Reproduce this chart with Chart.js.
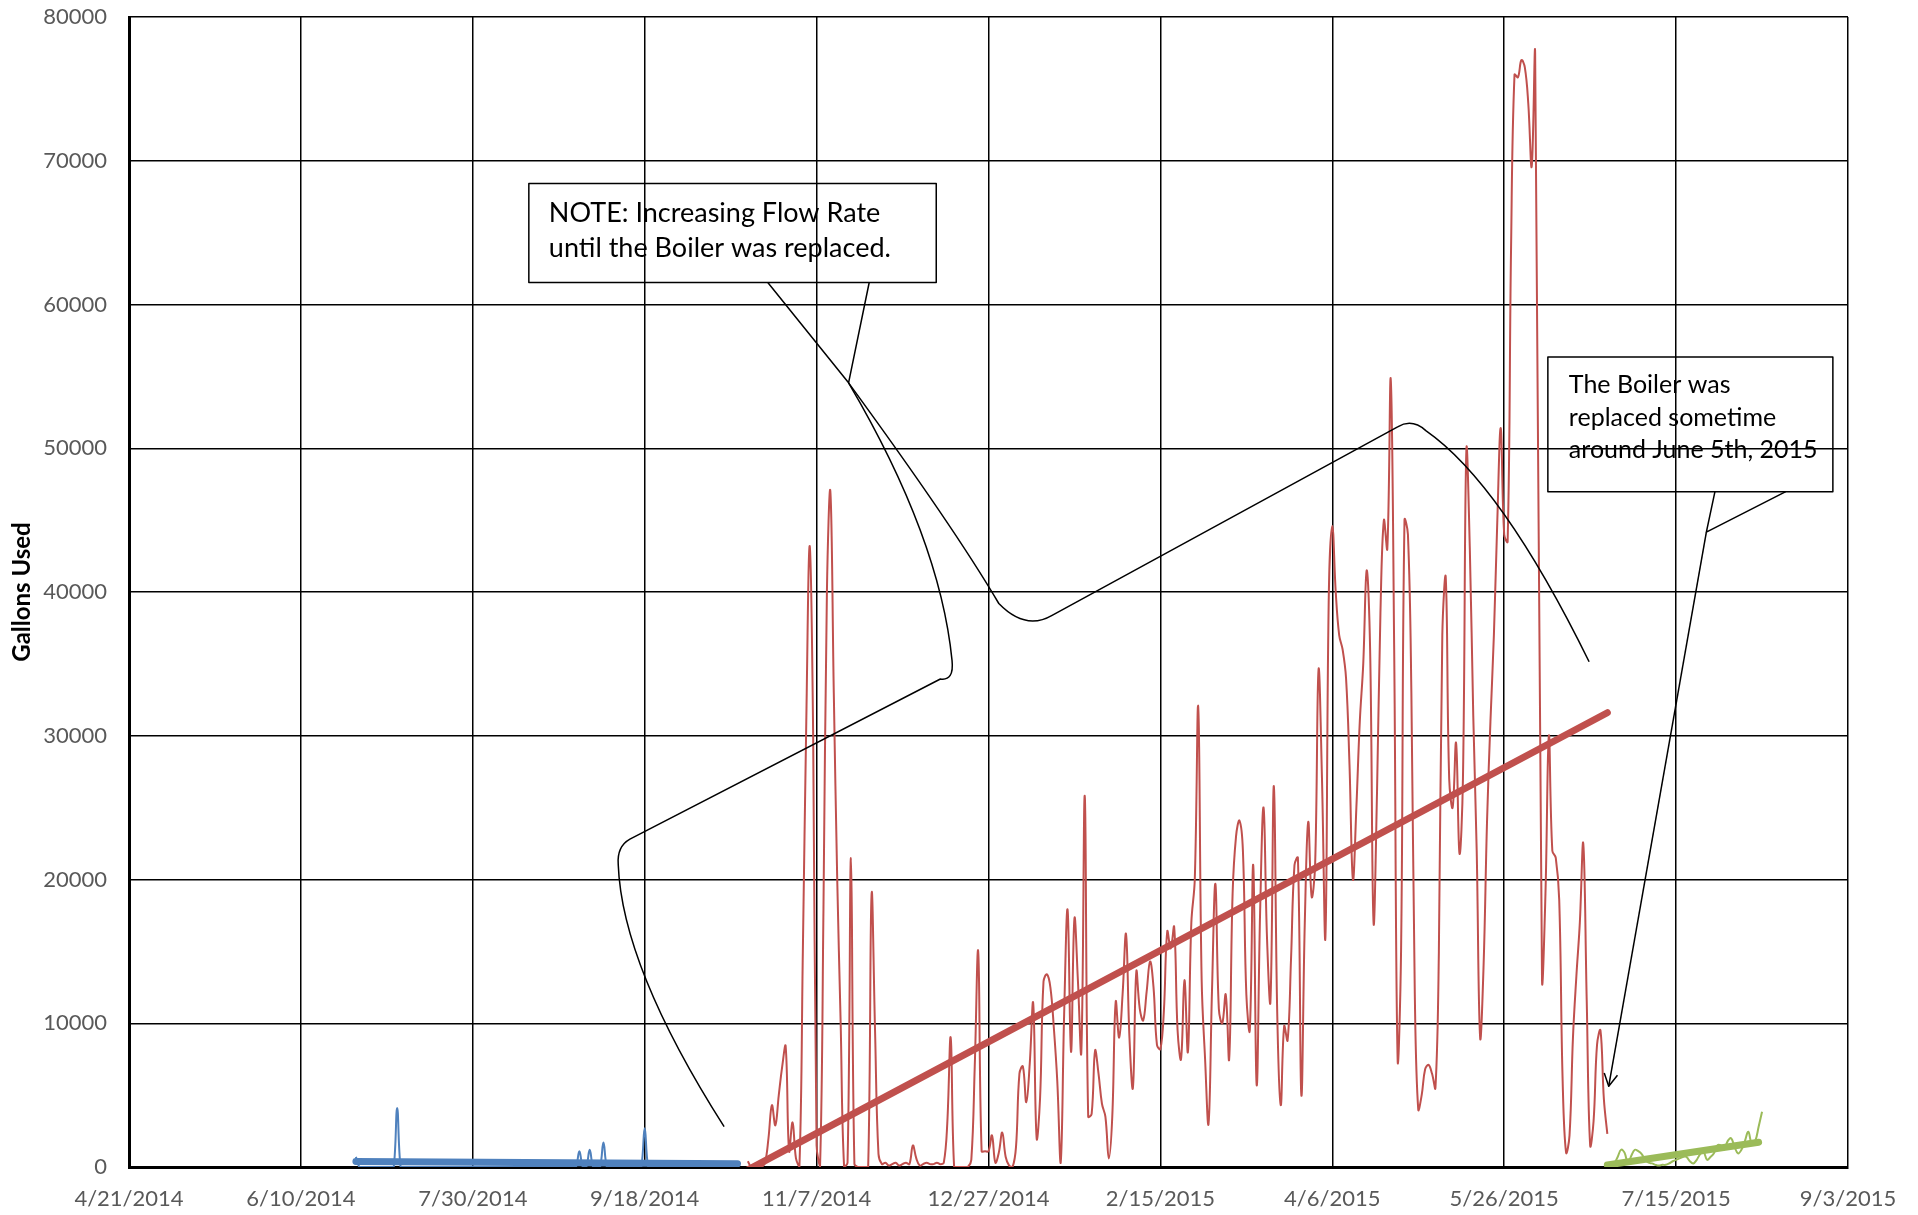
<!DOCTYPE html>
<html>
<head>
<meta charset="utf-8">
<title>Gallons Used</title>
<script src="https://cdn.jsdelivr.net/npm/chart.js@4.4.1/dist/chart.umd.min.js"></script>
<style>
  html, body { margin: 0; padding: 0; background: #fff; overflow: hidden; }
  canvas { display: block; }
</style>
</head>
<body>
<canvas id="usage-chart" width="1918" height="1215"></canvas>
<script>
(function () {
    // x values are days counted from 4/21/2014, the left end of the axis
    const AXIS_START = Date.UTC(2014, 3, 21);
    const X_MAX = 500;
    const X_STEP = 50;
    const Y_MAX = 80000;
    const Y_STEP = 10000;

    // --- Data: daily gallons, one value per day from the start date ---
    const blueStart = '2014-06-26';
    const blueValues = [
        700, 0, 0, 0, 0, 0, 0, 0, 0, 0,
        0, 0, 4100, 0, 0, 0, 0, 0, 0, 0,
        0, 0, 0, 0, 0, 0, 0, 0, 0, 0,
        0, 0, 0, 0, 0, 0, 0, 0, 0, 0,
        0, 0, 0, 0, 0, 0, 0, 0, 0, 0,
        0, 0, 0, 0, 0, 0, 0, 0, 0, 0,
        0, 0, 0, 0, 0, 1100, 0, 0, 1200, 0,
        0, 0, 1700, 0, 0, 0, 0, 0, 0, 0,
        0, 0, 0, 0, 2700, 0, 0, 0, 0, 0,
        0, 0, 0, 0, 0, 0, 0, 0, 0, 0,
        0, 0, 0, 0, 0, 0, 0, 0, 0, 0,
        0, 0
    ];

    const redStart = '2014-10-18';
    const redValues = [
        400, 0, 0, 0, 0, 300, 2000, 4300, 2900, 5000,
        7000, 8400, 1100, 3100, 600, 0, 15000, 31000, 43200, 30000,
        1500, 0, 18000, 40000, 47000, 33000, 20000, 10000, 0, 300,
        21500, 200, 0, 0, 0, 0, 19000, 9500, 900, 200,
        300, 100, 200, 300, 100, 200, 300, 200, 1500, 600,
        100, 200, 300, 200, 200, 300, 200, 300, 3000, 9000,
        0, 0, 0, 0, 0, 500, 7000, 15000, 1100, 1100,
        1100, 2200, 300, 1000, 2400, 700, 100, 0, 1400, 6500,
        7000, 4500, 7200, 11400, 2000, 4800, 12900, 13400, 12500, 9700,
        6000, 300, 10600, 17900, 8000, 17300, 13000, 8000, 25800, 3500,
        3700, 8100, 6500, 4400, 3500, 600, 3500, 11500, 9000, 12000,
        16200, 9000, 5500, 13600, 11000, 10200, 12200, 14300, 12500, 8500,
        8200, 10800, 16400, 15200, 16700, 9500, 7500, 13000, 8000, 17000,
        20000, 32000, 13000, 7500, 3000, 12200, 19700, 11000, 10000, 12000,
        7500, 19000, 23000, 24100, 22000, 12000, 9500, 21000, 5700, 17700,
        25000, 16000, 11500, 26500, 10500, 4300, 9800, 8800, 14500, 21000,
        21500, 5000, 17000, 24000, 18800, 21000, 34600, 27000, 16000, 40000,
        44600, 40000, 37000, 36000, 34000, 28000, 20000, 25000, 31000, 35000,
        41500, 36000, 17000, 26000, 38500, 45000, 43000, 54800, 36000, 7500,
        15000, 45000, 44000, 33000, 12000, 4000, 5000, 6800, 7100, 6500,
        5500, 15000, 37000, 41000, 27000, 25000, 29500, 21800, 27000, 49900,
        43000, 31400, 22000, 9000, 14000, 24000, 31000, 37000, 45000, 51400,
        44000, 43500, 64000, 76000, 75800, 77000, 76500, 74000, 69600, 77500,
        45000, 13000, 19000, 30000, 22000, 21500, 18600, 6000, 1000, 2200,
        9000, 13300, 17000, 22500, 11600, 1500, 3200, 8500, 9500, 4700,
        2300
    ];

    const greenStart = '2015-06-25';
    const greenValues = [
        0, 100, 250, 700, 1200, 1000, 250, 800, 1200, 1100,
        900, 500, 300, 250, 150, 100, 150, 150, 250, 400,
        500, 600, 700, 700, 400, 250, 500, 900, 1050, 500,
        700, 950, 1500, 1500, 1200, 1800, 2000, 1400, 950, 1200,
        1800, 2450, 1650, 1800, 2800, 3850
    ];

    // linear trend lines: [date, gallons] at each end
    const blueTrend = [['2014-06-26', 380], ['2014-10-15', 220]];
    const redTrend = [['2014-10-18', -200], ['2015-06-25', 31600]];
    const greenTrend = [['2015-06-25', 140], ['2015-08-08', 1720]];

    // --- Callouts, in axis units (days from 4/21/2014, gallons) ---
    const noteBox = {
        x0: 116.3, x1: 234.8, y0: 68420, y1: 61530,
        lines: ['NOTE: Increasing Flow Rate', 'until the Boiler was replaced.']
    };
    const boilerBox = {
        x0: 412.7, x1: 495.6, y0: 56350, y1: 46980,
        lines: ['The Boiler was', 'replaced sometime', 'around June 5th, 2015']
    };
    const leaderLines = [
        [['M', 185.8, 61530], ['L', 209.3, 54550], ['L', 215.3, 61530]],
        [['M', 209.3, 54550], ['Q', 235.9, 43740, 239.4, 35230], ['Q', 240.0, 33800, 236.0, 33950],
         ['L', 145.7, 22810], ['Q', 141.9, 22300, 142.3, 21050], ['Q', 143.4, 13960, 173.1, 2810]],
        [['M', 209.3, 54550], ['Q', 240.0, 44500, 253.0, 39200], ['Q', 260.7, 37300, 268.5, 38380],
         ['L', 369.0, 51490], ['Q', 373.2, 52080, 377.2, 51230], ['Q', 399.2, 47570, 424.7, 35150]],
        [['M', 461.3, 46980], ['L', 458.8, 44170], ['L', 481.9, 46980]],
        [['M', 458.8, 44170], ['L', 430.4, 5620]]
    ];
    const arrowTip = { from: [458.8, 44170], to: [430.4, 5620] };

    // --- Helpers ---
    const DAY_MS = 86400000;
    function dayOf(iso) {
        return (Date.parse(iso + 'T00:00:00Z') - AXIS_START) / DAY_MS;
    }
    function dayLabel(d) {
        const dt = new Date(AXIS_START + d * DAY_MS);
        return (dt.getUTCMonth() + 1) + '/' + dt.getUTCDate() + '/' + dt.getUTCFullYear();
    }
    function dailyPoints(start, values) {
        const d0 = dayOf(start);
        return values.map((v, i) => ({ x: d0 + i, y: v }));
    }
    function trendPoints(ends) {
        return ends.map(([d, v]) => ({ x: dayOf(d), y: v }));
    }

    const BLUE = '#4F81BD';
    const RED = '#C0504D';
    const GREEN = '#9BBB59';

    function series(label, color, points) {
        return {
            label: label, data: points, borderColor: color, borderWidth: 2,
            tension: 0.4, pointRadius: 0, fill: false, order: 1
        };
    }
    function trend(label, color, points) {
        return {
            label: label, data: points, borderColor: color, borderWidth: 7,
            borderCapStyle: 'round', tension: 0, pointRadius: 0, fill: false, order: 0
        };
    }

    // draws the text boxes and their leader lines over the data
    const calloutPlugin = {
        id: 'callouts',
        afterDatasetsDraw(chart) {
            const { ctx, scales: { x, y } } = chart;
            const px = v => x.getPixelForValue(v);
            const py = v => y.getPixelForValue(v);
            ctx.save();
            ctx.strokeStyle = '#000';
            ctx.lineWidth = 1.5;
            ctx.lineJoin = 'round';

            leaderLines.forEach(path => {
                ctx.beginPath();
                path.forEach(seg => {
                    if (seg[0] === 'M') ctx.moveTo(px(seg[1]), py(seg[2]));
                    else if (seg[0] === 'L') ctx.lineTo(px(seg[1]), py(seg[2]));
                    else ctx.quadraticCurveTo(px(seg[1]), py(seg[2]), px(seg[3]), py(seg[4]));
                });
                ctx.stroke();
            });

            // open arrow head at the end of the boiler pointer
            const tx = px(arrowTip.to[0]), ty = py(arrowTip.to[1]);
            const ang = Math.atan2(ty - py(arrowTip.from[1]), tx - px(arrowTip.from[0]));
            ctx.beginPath();
            ctx.moveTo(tx - 14 * Math.cos(ang - 0.5), ty - 14 * Math.sin(ang - 0.5));
            ctx.lineTo(tx, ty);
            ctx.lineTo(tx - 14 * Math.cos(ang + 0.5), ty - 14 * Math.sin(ang + 0.5));
            ctx.stroke();

            const boxes = [
                { box: noteBox, size: 27, lead: 35.5, padX: 20, first: 29.5 },
                { box: boilerBox, size: 25, lead: 32.5, padX: 21, first: 28 }
            ];
            boxes.forEach(({ box, size, lead, padX, first }) => {
                const left = px(box.x0), top = py(box.y0);
                const w = px(box.x1) - left, h = py(box.y1) - top;
                ctx.lineWidth = 1.5;
                ctx.strokeRect(left, top, w, h);
                ctx.fillStyle = '#000';
                ctx.font = size + 'px Lato';
                ctx.textBaseline = 'middle';
                ctx.textAlign = 'left';
                box.lines.forEach((t, i) => ctx.fillText(t, left + padX, top + first + i * lead));
            });
            ctx.restore();
        }
    };

    const tickFont = { family: 'Lato', size: 22 };

    const config = {
        type: 'line',
        data: {
            datasets: [
                trend('Blue trend', BLUE, trendPoints(blueTrend)),
                trend('Red trend', RED, trendPoints(redTrend)),
                trend('Green trend', GREEN, trendPoints(greenTrend)),
                series('Before', BLUE, dailyPoints(blueStart, blueValues)),
                series('Boiler', RED, dailyPoints(redStart, redValues)),
                series('After', GREEN, dailyPoints(greenStart, greenValues))
            ]
        },
        options: {
            responsive: false,
            devicePixelRatio: 1,
            animation: false,
            layout: { padding: { top: 17, right: 70, bottom: 0, left: 0 } },
            scales: {
                x: {
                    type: 'linear',
                    min: 0,
                    max: X_MAX,
                    grid: { color: '#000', lineWidth: 1.5, drawTicks: false },
                    border: { color: '#000', width: 3 },
                    ticks: {
                        stepSize: X_STEP, autoSkip: false, maxRotation: 0, padding: 19,
                        color: '#595959', font: tickFont,
                        callback: value => dayLabel(value)
                    },
                    afterFit: scale => {
                        scale.height = 48;
                        scale.paddingLeft = 0;
                        scale.paddingRight = 0;
                    }
                },
                y: {
                    min: 0,
                    max: Y_MAX,
                    grid: { color: '#000', lineWidth: 1.5, drawTicks: false },
                    border: { color: '#000', width: 3 },
                    ticks: {
                        stepSize: Y_STEP, padding: 22, color: '#595959', font: tickFont,
                        callback: value => String(value)
                    },
                    title: {
                        display: true, text: 'Gallons Used', color: '#000',
                        font: { family: 'Lato', size: 24, weight: 'bold', lineHeight: 1.2 },
                        padding: { top: 8, bottom: 0 }
                    },
                    afterFit: scale => {
                        scale.width = 129;
                        scale.paddingTop = 0;
                        scale.paddingBottom = 0;
                    }
                }
            },
            plugins: {
                legend: { display: false },
                tooltip: { enabled: false }
            }
        },
        plugins: [calloutPlugin]
    };

    new Chart(document.getElementById('usage-chart'), config);
})();
</script>
</body>
</html>
